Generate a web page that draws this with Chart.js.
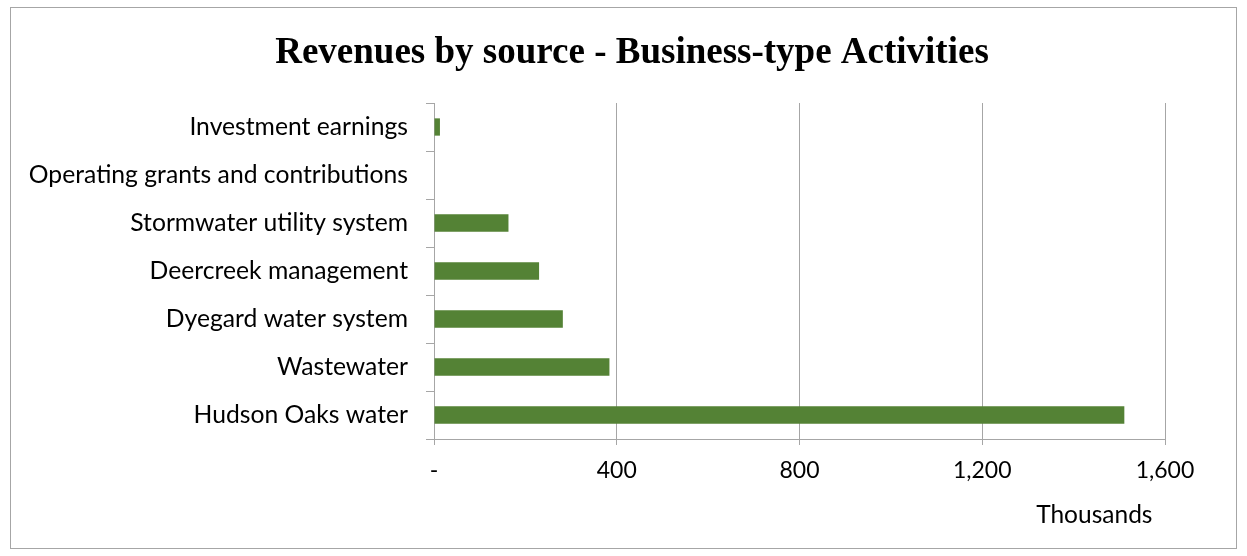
<!DOCTYPE html>
<html>
<head>
<meta charset="utf-8">
<script src="https://cdn.jsdelivr.net/npm/chart.js"></script>
<style>
  body { margin: 0; background: #fff; }
  #box {
    position: absolute;
    left: 10px;
    top: 7px;
    width: 1225px;
    height: 540px;
    border: 1px solid #a6a6a6;
  }
</style>
</head>
<body>
<div id="box">
  <canvas id="myChart" width="1225" height="540"></canvas>
</div>
<script>
// 데이터
const categories = [
  'Investment earnings',
  'Operating grants and contributions',
  'Stormwater utility system',
  'Deercreek management',
  'Dyegard water system',
  'Wastewater',
  'Hudson Oaks water',
];
const revenues = [13, 0, 163, 230, 282, 384, 1511];
const xTicks = [0, 400, 800, 1200, 1600];

const gridGray = '#a6a6a6';
const sans = 'Lato, "Noto Sans", sans-serif';

new Chart(document.getElementById('myChart'), {
  type: 'bar',
  data: {
    labels: categories,
    datasets: [
      {
        label: 'Revenues',
        data: revenues,
        backgroundColor: '#548235',
        borderWidth: 0,
        categoryPercentage: 1,
        barPercentage: 0.36,
      },
    ],
  },
  options: {
    indexAxis: 'y',
    responsive: false,
    animation: false,
    layout: {
      padding: {left: 17, right: 0, top: 0, bottom: 0},
    },
    plugins: {
      legend: {display: false},
      tooltip: {enabled: false},
      title: {
        display: true,
        text: 'Revenues by source - Business-type Activities',
        color: '#000',
        font: {family: '"Liberation Serif", "Times New Roman", serif', size: 37, weight: 'bold'},
        padding: {top: 23, bottom: 27.6},
      },
    },
    scales: {
      x: {
        min: xTicks[0],
        max: xTicks[xTicks.length - 1],
        afterBuildTicks: scale => {
          scale.ticks = xTicks.map(v => ({value: v}));
        },
        afterFit: scale => {
          scale.height = 109;
        },
        ticks: {
          color: '#000',
          font: {family: sans, size: 23},
          padding: 12,
          maxRotation: 0,
          callback: v => (v === 0 ? '-' : v.toLocaleString('en-US')),
        },
        grid: {
          color: gridGray,
          lineWidth: 1,
          drawTicks: true,
          tickLength: 6,
        },
        border: {color: gridGray, width: 1},
        title: {
          display: true,
          text: 'Thousands  ',
          align: 'end',
          color: '#000',
          font: {family: sans, size: 24.5},
          padding: {top: 0, bottom: 18},
        },
      },
      y: {
        afterFit: scale => {
          scale.width = 406;
        },
        ticks: {
          color: '#000',
          font: {family: sans, size: 24.7},
          padding: 18,
        },
        grid: {
          offset: true,
          drawOnChartArea: false,
          color: gridGray,
          tickLength: 8,
        },
        border: {color: gridGray, width: 1},
      },
      // 오른쪽 여백용 빈 축
      yRight: {
        type: 'category',
        position: 'right',
        afterFit: scale => {
          scale.width = 71;
        },
        ticks: {display: false},
        grid: {display: false},
        border: {display: false},
      },
    },
  },
});
</script>
</body>
</html>
